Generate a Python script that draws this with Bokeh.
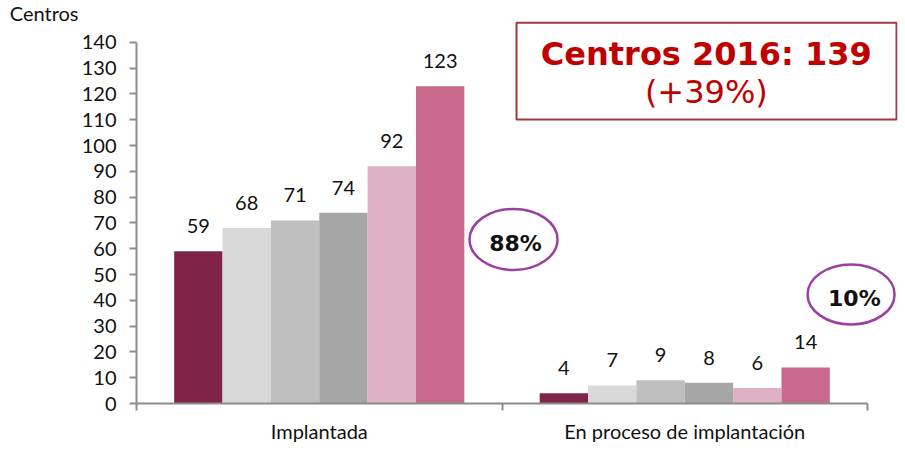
from bokeh.plotting import figure
from bokeh.models import (ColumnDataSource, Range1d, FixedTicker, Label, BoxAnnotation, LinearAxis)
from bokeh.core.properties import value
from bokeh.embed import file_html
from bokeh.resources import INLINE

# ---- data ----
categories = ["Implantada", "En proceso de implantación"]
series_names = ["2011", "2012", "2013", "2014", "2015", "2016"]
series_values = [
    [59, 4],
    [68, 7],
    [71, 9],
    [74, 8],
    [92, 6],
    [123, 14],
]
series_colors = ["#7F234A", "#D9D9D9", "#BFBFBF", "#A6A6A6", "#DFB1C4", "#C9698C"]
y_ticks = list(range(0, 141, 10))
y_title = "Centros"
box_title = "Centros 2016: 139"
box_sub = "(+39%)"
share_labels = ["88%", "10%"]

LATO = value("Lato")
DEJ = value("DejaVu Sans")
AXIS_COL = "#8C8C8C"
FS = "20px"

p = figure(width=900, height=468, output_backend="svg", toolbar_location=None,
           x_range=Range1d(0, 2.082), y_range=Range1d(0, 154.7),
           min_border_left=136, min_border_right=3, min_border_top=4,
           min_border_bottom=65)
p.outline_line_color = None
p.xgrid.visible = False
p.ygrid.visible = False
p.background_fill_color = "white"
p.border_fill_color = "white"

bar_w = 0.1323
n = len(series_values)
for j, (name, vals, col) in enumerate(zip(series_names, series_values, series_colors)):
    xs = [i + 0.5 + (j - (n - 1) / 2) * bar_w for i in range(len(categories))]
    src = ColumnDataSource(dict(x=xs, top=vals, txt=[str(v) for v in vals]))
    p.vbar(x="x", top="top", bottom=0, width=bar_w, fill_color=col, line_color=None, source=src)
    p.text(x="x", y="top", text="txt", source=src, text_font=LATO, text_font_size=FS,
           text_color="#111111", text_align="center", text_baseline="middle", y_offset=-25)

# y axis
ya = p.yaxis[0]
ya.ticker = FixedTicker(ticks=y_ticks)
ya.bounds = (0, 140)
ya.axis_line_color = AXIS_COL
ya.axis_line_width = 2
ya.major_tick_line_color = AXIS_COL
ya.major_tick_line_width = 2
ya.major_tick_out = 7
ya.major_tick_in = 0
ya.minor_tick_line_color = None
ya.major_label_standoff = 13
ya.major_label_text_font = "Lato"
ya.major_label_text_font_size = FS
ya.major_label_text_color = "#111111"

# axis title "Centros" placed at the top-left as a label-only axis
ta = LinearAxis(ticker=FixedTicker(ticks=[151.4]), major_label_overrides={151.4: y_title})
ta.axis_line_color = None
ta.major_tick_line_color = None
ta.minor_tick_line_color = None
ta.major_tick_out = 0
ta.major_tick_in = 0
ta.major_label_standoff = 0
ta.major_label_text_font = "Lato"
ta.major_label_text_font_size = FS
ta.major_label_text_color = "#111111"
p.add_layout(ta, "left")

# x axis
xa = p.xaxis[0]
xa.ticker = FixedTicker(ticks=[i + 0.5 for i in range(len(categories))],
                        minor_ticks=list(range(len(categories) + 1)))
xa.major_label_overrides = {i + 0.5: c for i, c in enumerate(categories)}
xa.bounds = (0, len(categories))
xa.axis_line_color = AXIS_COL
xa.axis_line_width = 2
xa.major_tick_line_color = None
xa.major_tick_out = 0
xa.major_tick_in = 0
xa.minor_tick_line_color = AXIS_COL
xa.minor_tick_line_width = 2
xa.minor_tick_out = 7
xa.minor_tick_in = 0
xa.major_label_standoff = 8
xa.major_label_text_font = "Lato"
xa.major_label_text_font_size = FS
xa.major_label_text_color = "#111111"

# summary box
p.add_layout(BoxAnnotation(left=1.0397, right=2.0793, top=147.6, bottom=110.1,
                           fill_color=None, fill_alpha=0, line_color="#A0393B",
                           line_alpha=1.0, line_width=2))
p.add_layout(Label(x=1.559, y=135.6, text=box_title, text_font="DejaVu Sans",
                   text_font_style="bold", text_font_size="32px", text_color="#C00000",
                   text_align="center", text_baseline="middle"))
p.add_layout(Label(x=1.559, y=120.7, text=box_sub, text_font="DejaVu Sans",
                   text_font_size="32px", text_color="#C00000",
                   text_align="center", text_baseline="middle"))

# share ellipses
p.ellipse(x=[1.0315, 1.955], y=[63.6, 42.3], width=[88, 87], height=[61, 60],
          width_units="screen", height_units="screen",
          fill_color=None, line_color="#9B3FA3", line_width=2.5)
p.text(x=[1.037, 1.964], y=[62.2, 40.6], text=share_labels, text_font=DEJ,
       text_font_style="bold", text_font_size="22px", text_color="#111111",
       text_align="center", text_baseline="middle")

open("out.html", "w").write(file_html(p, INLINE))
